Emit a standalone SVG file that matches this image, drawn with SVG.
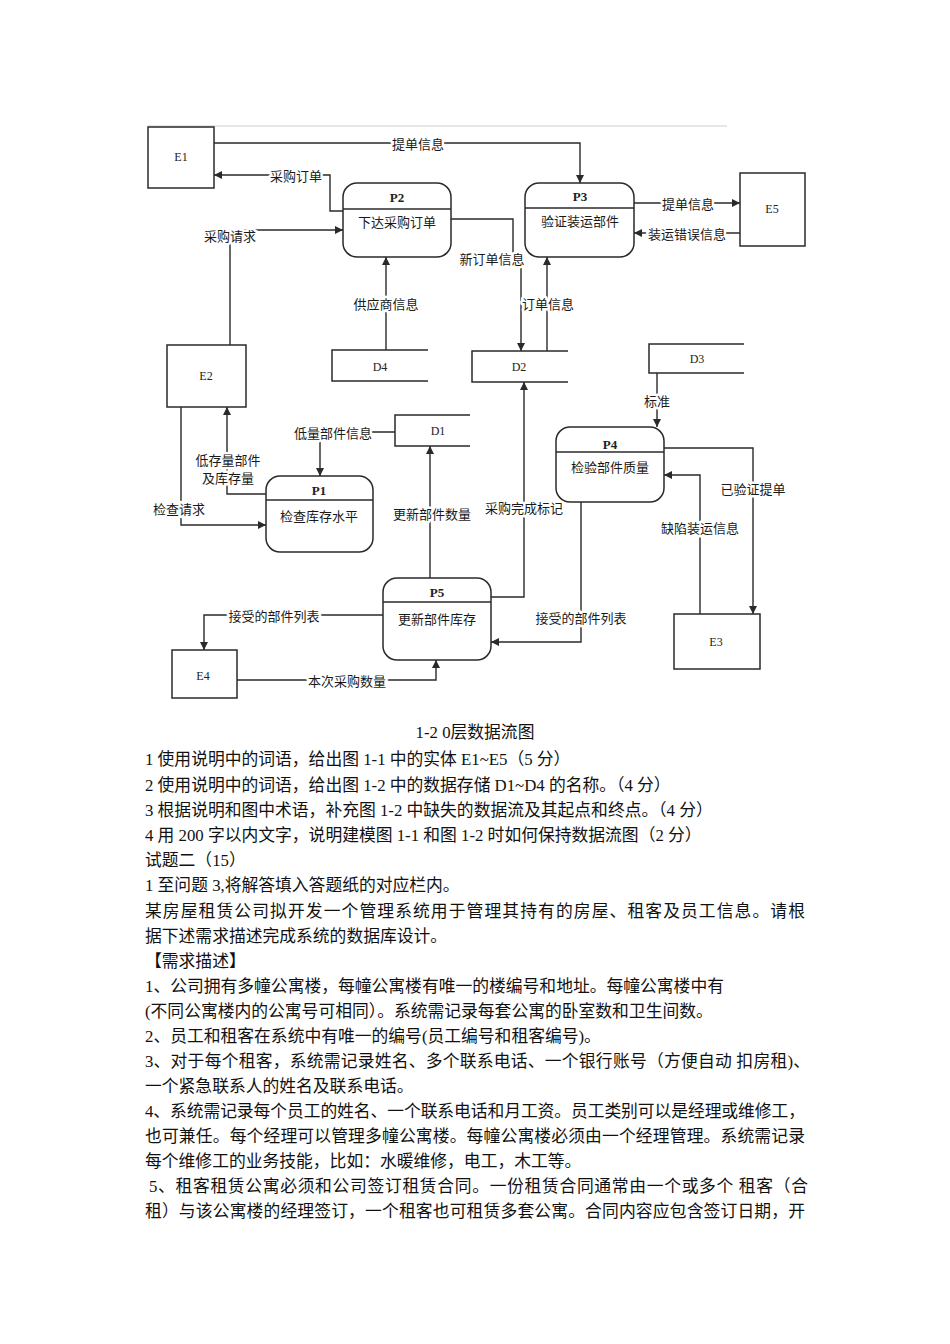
<svg xmlns="http://www.w3.org/2000/svg" width="950" height="1344" viewBox="0 0 950 1344">
<style>
.bg{fill:#fff}
.box{fill:#fff;stroke:#2a2a2a;stroke-width:1.5}
.store{fill:none;stroke:#2a2a2a;stroke-width:1.5}
.div{stroke:#2a2a2a;stroke-width:1.3}
.ln{fill:none;stroke:#2a2a2a;stroke-width:1.4}
.lb{font-family:"Noto Sans CJK SC",sans-serif;font-size:13px;fill:#1a1a1a;text-anchor:middle;dominant-baseline:central;paint-order:stroke;stroke:#fff;stroke-width:5px;stroke-linejoin:round}
.nm{font-family:"Noto Sans CJK SC",sans-serif;font-size:13px;fill:#1a1a1a;text-anchor:middle;dominant-baseline:central}
.id{font-family:"Liberation Serif",serif;font-size:13px;font-weight:bold;fill:#222;text-anchor:middle;dominant-baseline:central}
.en{font-family:"Liberation Serif",serif;font-size:12px;fill:#222;text-anchor:middle;dominant-baseline:central}
.tx{font-family:"Liberation Serif","Noto Sans CJK SC",serif;font-size:16.8px;fill:#111}
</style>
<defs>
<marker id="ar" viewBox="0 0 10 10" refX="10" refY="5" markerWidth="8" markerHeight="8" markerUnits="userSpaceOnUse" orient="auto">
<path d="M0,0 L10,5 L0,10 z" fill="#2a2a2a"/>
</marker>
</defs>
<rect class="bg" x="0" y="0" width="950" height="1344"/>
<line x1="148" y1="126" x2="727" y2="126" stroke="#e6e6e6" stroke-width="2"/>

<g id="E1"><rect class="box" x="148" y="127" width="66" height="61"/><text class="en" x="181" y="157">E1</text></g>
<g id="E2"><rect class="box" x="167" y="345" width="79" height="62"/><text class="en" x="206" y="376">E2</text></g>
<g id="E3"><rect class="box" x="674" y="614" width="86" height="55"/><text class="en" x="716" y="642">E3</text></g>
<g id="E4"><rect class="box" x="172" y="650" width="65" height="48"/><text class="en" x="203" y="676">E4</text></g>
<g id="E5"><rect class="box" x="740" y="173" width="65" height="73"/><text class="en" x="772" y="209">E5</text></g>

<g id="P1"><rect class="box" x="266" y="476" width="107" height="76" rx="14"/><line class="div" x1="266" y1="500" x2="373" y2="500"/><text class="id" x="319" y="490">P1</text><text class="nm" x="319" y="515">检查库存水平</text></g>
<g id="P2"><rect class="box" x="343" y="183" width="108" height="74" rx="14"/><line class="div" x1="343" y1="209" x2="451" y2="209"/><text class="id" x="397" y="197">P2</text><text class="nm" x="397" y="221">下达采购订单</text></g>
<g id="P3"><rect class="box" x="525" y="183" width="109" height="74" rx="14"/><line class="div" x1="525" y1="208" x2="634" y2="208"/><text class="id" x="580" y="196">P3</text><text class="nm" x="580" y="220">验证装运部件</text></g>
<g id="P4"><rect class="box" x="556" y="427" width="108" height="75" rx="14"/><line class="div" x1="556" y1="452" x2="664" y2="452"/><text class="id" x="610" y="444">P4</text><text class="nm" x="610" y="466">检验部件质量</text></g>
<g id="P5"><rect class="box" x="383" y="578" width="108" height="82" rx="14"/><line class="div" x1="383" y1="602" x2="491" y2="602"/><text class="id" x="437" y="592">P5</text><text class="nm" x="437" y="618">更新部件库存</text></g>

<g id="D1"><path class="store" d="M470,415 H395 V446 H470"/><text class="en" x="438" y="431">D1</text></g>
<g id="D2"><path class="store" d="M568,351 H472 V382 H568"/><text class="en" x="519" y="367">D2</text></g>
<g id="D3"><path class="store" d="M744,344 H649 V373 H744"/><text class="en" x="697" y="359">D3</text></g>
<g id="D4"><path class="store" d="M428,350 H332 V381 H428"/><text class="en" x="380" y="367">D4</text></g>

<g id="connectors">
<path class="ln" d="M214,143 H580 V183" marker-end="url(#ar)"/>
<path class="ln" d="M343,211 H330 V175 H214" marker-end="url(#ar)"/>
<path class="ln" d="M230,345 V230 H343" marker-end="url(#ar)"/>
<path class="ln" d="M386,350 V257" marker-end="url(#ar)"/>
<path class="ln" d="M451,219 H513 V258 H521 V351" marker-end="url(#ar)"/>
<path class="ln" d="M547,351 V257" marker-end="url(#ar)"/>
<path class="ln" d="M634,203 H740" marker-end="url(#ar)"/>
<path class="ln" d="M740,233 H634" marker-end="url(#ar)"/>
<path class="ln" d="M657,373 V427" marker-end="url(#ar)"/>
<path class="ln" d="M664,448 H753 V614" marker-end="url(#ar)"/>
<path class="ln" d="M700,614 V475 H664" marker-end="url(#ar)"/>
<path class="ln" d="M581,502 V642 H491" marker-end="url(#ar)"/>
<path class="ln" d="M491,597 H524 V382" marker-end="url(#ar)"/>
<path class="ln" d="M430,578 V446" marker-end="url(#ar)"/>
<path class="ln" d="M395,432 H320 V476" marker-end="url(#ar)"/>
<path class="ln" d="M266,494 H227 V407" marker-end="url(#ar)"/>
<path class="ln" d="M181,407 V525 H266" marker-end="url(#ar)"/>
<path class="ln" d="M383,615 H204 V650" marker-end="url(#ar)"/>
<path class="ln" d="M237,680 H436 V660" marker-end="url(#ar)"/>
<text class="lb" x="418" y="143">提单信息</text>
<text class="lb" x="296" y="175">采购订单</text>
<text class="lb" x="230" y="235">采购请求</text>
<text class="lb" x="386" y="303">供应商信息</text>
<text class="lb" x="492" y="258">新订单信息</text>
<text class="lb" x="548" y="303">订单信息</text>
<text class="lb" x="688" y="203">提单信息</text>
<text class="lb" x="687" y="233">装运错误信息</text>
<text class="lb" x="657" y="400">标准</text>
<text class="lb" x="753" y="488">已验证提单</text>
<text class="lb" x="700" y="527">缺陷装运信息</text>
<text class="lb" x="581" y="617">接受的部件列表</text>
<text class="lb" x="524" y="507">采购完成标记</text>
<text class="lb" x="432" y="513">更新部件数量</text>
<text class="lb" x="333" y="432">低量部件信息</text>
<text class="lb" x="228" y="459">低存量部件</text>
<text class="lb" x="228" y="477">及库存量</text>
<text class="lb" x="179" y="508">检查请求</text>
<text class="lb" x="274" y="615">接受的部件列表</text>
<text class="lb" x="347" y="680">本次采购数量</text>
</g>

<g id="text">
<text class="tx" x="475" y="738" text-anchor="middle">1-2 0层数据流图</text>
<text class="tx" x="145" y="765">1 使用说明中的词语，给出图 1-1 中的实体 E1~E5（5 分）</text>
<text class="tx" x="145" y="791">2 使用说明中的词语，给出图 1-2 中的数据存储 D1~D4 的名称。（4 分）</text>
<text class="tx" x="145" y="816">3 根据说明和图中术语，补充图 1-2 中缺失的数据流及其起点和终点。（4 分）</text>
<text class="tx" x="145" y="841">4 用 200 字以内文字，说明建模图 1-1 和图 1-2 时如何保持数据流图（2 分）</text>
<text class="tx" x="145" y="866">试题二（15）</text>
<text class="tx" x="145" y="891">1 至问题 3,将解答填入答题纸的对应栏内。</text>
<text class="tx" x="145" y="917" textLength="660" lengthAdjust="spacing">某房屋租赁公司拟开发一个管理系统用于管理其持有的房屋、租客及员工信息。请根</text>
<text class="tx" x="145" y="942">据下述需求描述完成系统的数据库设计。</text>
<text class="tx" x="145" y="967">【需求描述】</text>
<text class="tx" x="145" y="992">1、公司拥有多幢公寓楼，每幢公寓楼有唯一的楼编号和地址。每幢公寓楼中有</text>
<text class="tx" x="145" y="1017">(不同公寓楼内的公寓号可相同）。系统需记录每套公寓的卧室数和卫生间数。</text>
<text class="tx" x="145" y="1042">2、员工和租客在系统中有唯一的编号(员工编号和租客编号)。</text>
<text class="tx" x="145" y="1067" textLength="665" lengthAdjust="spacing">3、对于每个租客，系统需记录姓名、多个联系电话、一个银行账号（方便自动 扣房租)、</text>
<text class="tx" x="145" y="1092">一个紧急联系人的姓名及联系电话。</text>
<text class="tx" x="145" y="1117" textLength="660" lengthAdjust="spacing">4、系统需记录每个员工的姓名、一个联系电话和月工资。员工类别可以是经理或维修工，</text>
<text class="tx" x="145" y="1142" textLength="660" lengthAdjust="spacing">也可兼任。每个经理可以管理多幢公寓楼。每幢公寓楼必须由一个经理管理。系统需记录</text>
<text class="tx" x="145" y="1167">每个维修工的业务技能，比如：水暖维修，电工，木工等。</text>
<text class="tx" x="149" y="1192" textLength="659" lengthAdjust="spacing">5、租客租赁公寓必须和公司签订租赁合同。一份租赁合同通常由一个或多个 租客（合</text>
<text class="tx" x="145" y="1217" textLength="660" lengthAdjust="spacing">租）与该公寓楼的经理签订，一个租客也可租赁多套公寓。合同内容应包含签订日期，开</text>
</g>
</svg>
